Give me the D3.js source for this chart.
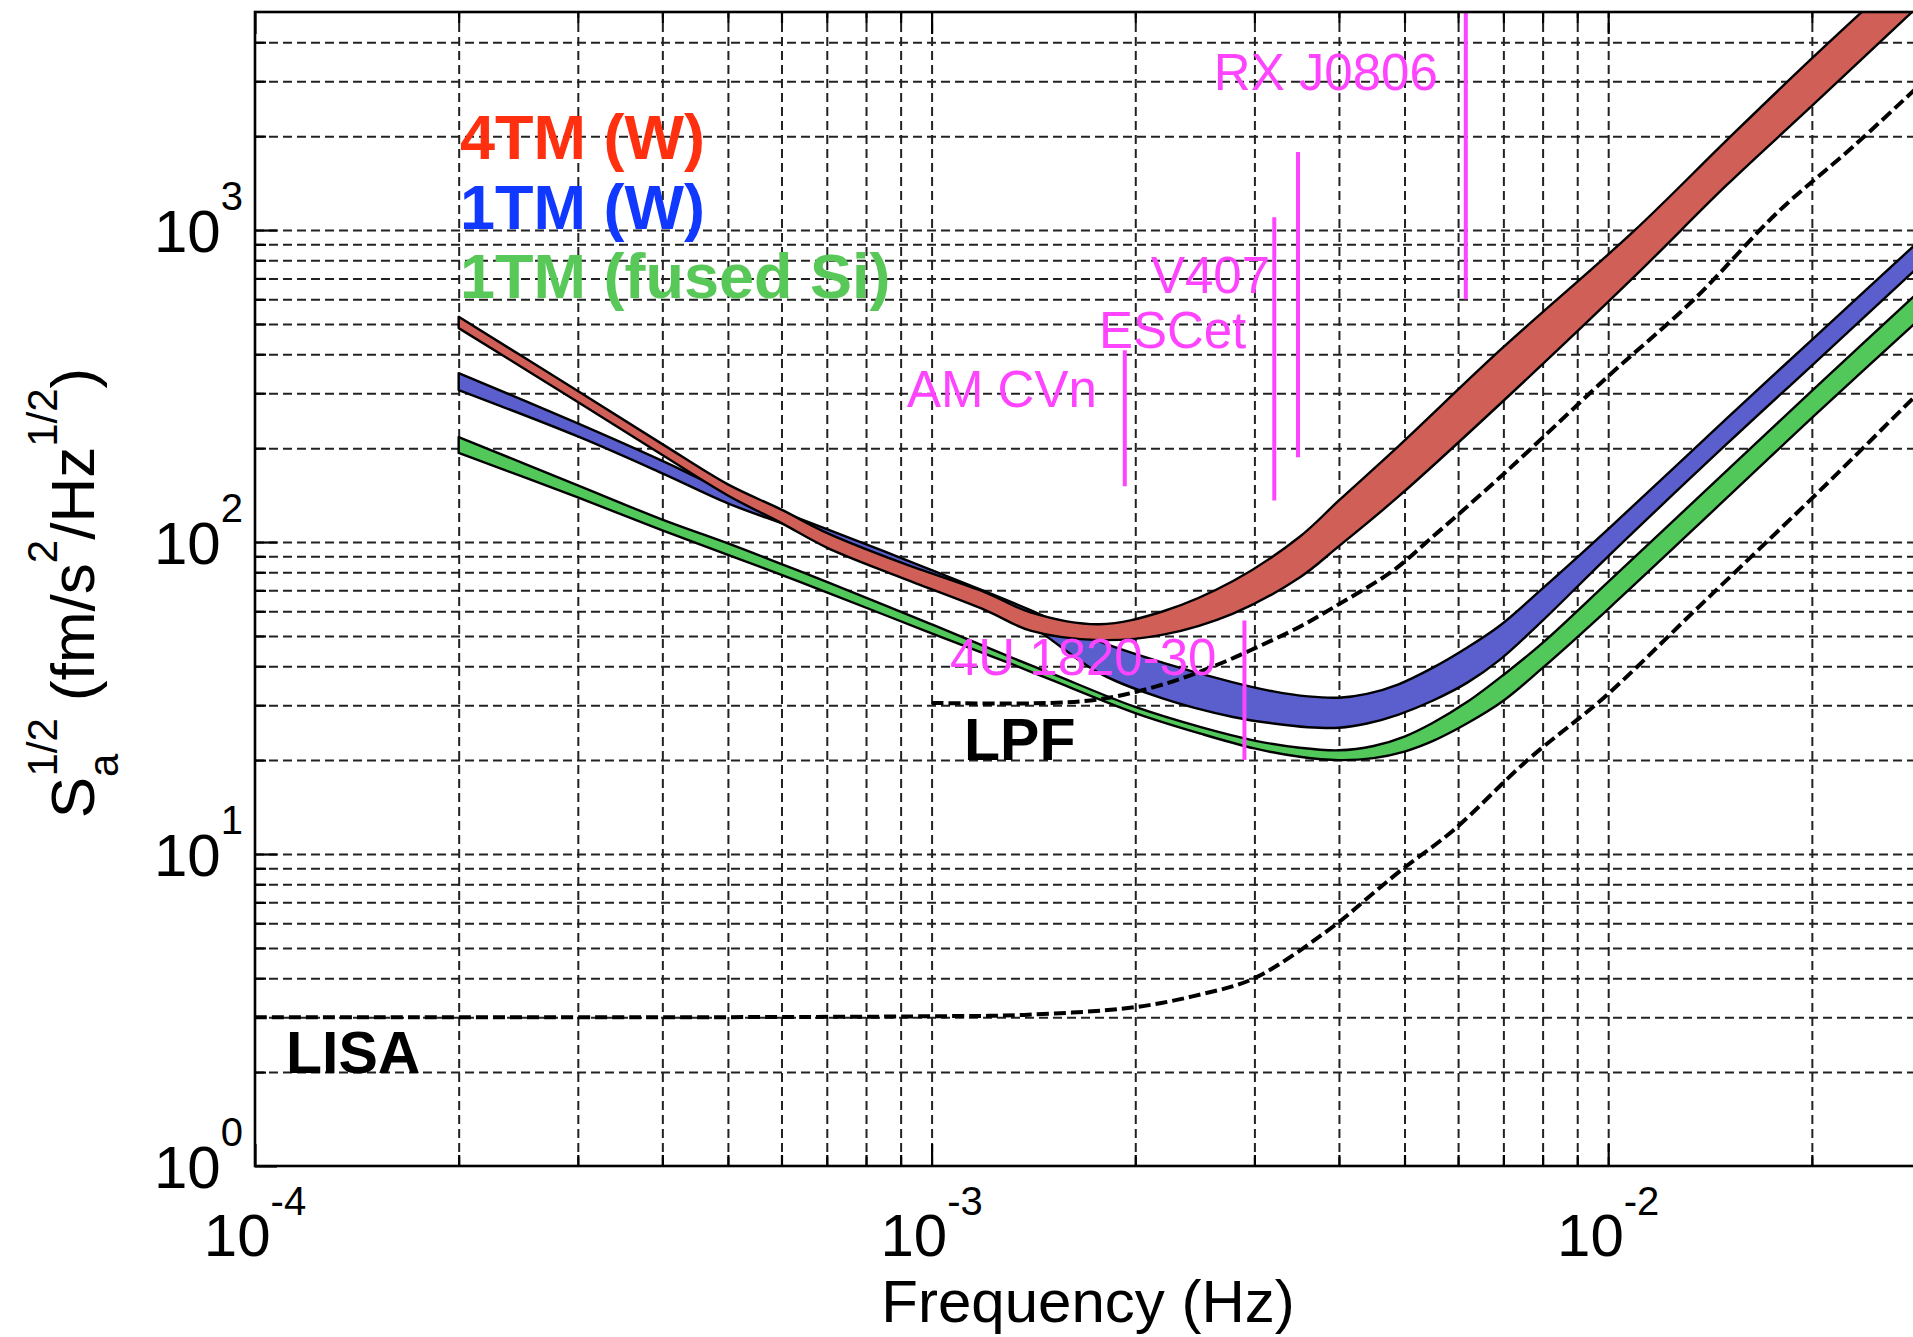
<!DOCTYPE html>
<html>
<head>
<meta charset="utf-8">
<script src="https://cdn.jsdelivr.net/npm/d3@7"></script>
<style>
  body { margin: 0; background: #fff; }
  svg { display: block; }
  text { font-family: "Liberation Sans", Arial, Helvetica, sans-serif; }
</style>
</head>
<body>
<div id="chart-container"></div>
<script>
// ---- data (frequency in Hz, S_a^1/2 in fm/s^2/Hz^1/2) ----

// 4TM (W) band
const redF  = [2e-4, 3e-4, 4e-4, 5e-4, 6e-4, 7e-4, 9e-4, 1.2e-3, 1.4e-3, 1.77e-3, 2.2e-3, 2.79e-3, 3.5e-3, 4e-3, 4.9e-3, 6.92e-3, 1.09e-2, 1.5e-2, 2e-2, 3e-2];
const redHi = [527, 305, 206, 153, 127, 107, 86, 69, 59.5, 54.5, 60, 75, 104, 136, 203, 412, 990, 1950, 3550, 8000];
const redLo = [485, 281, 190, 141, 115, 96, 77, 60.5, 52, 48.5, 50.5, 59, 77, 97, 140, 277, 705, 1400, 2500, 5700];

// 1TM (W) band
const blueF  = [2e-4, 3e-4, 4e-4, 5e-4, 6e-4, 7e-4, 9e-4, 1.2e-3, 1.4e-3, 1.77e-3, 2.2e-3, 2.79e-3, 3.2e-3, 3.6e-3, 4e-3, 4.4e-3, 4.9e-3, 5.5e-3, 6.2e-3, 6.92e-3, 8e-3, 1e-2, 1.5e-2, 2e-2, 3e-2];
const blueHi = [348, 240, 182, 145, 125, 110, 89, 69.5, 60.5, 48, 41, 35.5, 33.2, 32, 31.7, 32.6, 35, 39.5, 46, 54, 71, 110, 250, 445, 1000];
const blueLo = [307, 218, 166, 133, 115, 102, 82.5, 64, 54, 38, 31.5, 27.5, 26.2, 25.5, 25.4, 26.2, 28, 31, 35.5, 42, 56, 90, 207, 368, 830];

// 1TM (fused Si) band
const greenF  = [2e-4, 3e-4, 4e-4, 5e-4, 6e-4, 7e-4, 1e-3, 1.3e-3, 1.5e-3, 2e-3, 2.5e-3, 3e-3, 3.5e-3, 4e-3, 4.5e-3, 5e-3, 5.5e-3, 6.2e-3, 7e-3, 8e-3, 1e-2, 1.5e-2, 2e-2, 3e-2];
const greenHi = [217, 152, 118, 99, 85, 74.5, 54.5, 43, 38, 29.6, 25.5, 23.1, 21.9, 21.5, 22.2, 23.8, 26.3, 30.8, 37.5, 47.5, 74.5, 170, 305, 690];
const greenLo = [193, 139, 109, 91, 78.5, 69, 51, 41, 36.2, 28.3, 24.3, 21.8, 20.5, 20.0, 20.3, 21.3, 23, 26.3, 31, 39.5, 61, 139, 250, 560];

// LPF requirement (dashed)
const lpfF = [1e-3, 1.5e-3, 1.8e-3, 2.23e-3, 2.65e-3, 2.96e-3, 3.5e-3, 3.94e-3, 4.81e-3, 5.42e-3, 7e-3, 1e-2, 1.34e-2, 1.78e-2, 2.3e-2, 2.83e-2, 3e-2];
const lpfV = [30.5, 30.5, 31.5, 35.3, 40.5, 45, 53.5, 62, 81, 101, 165, 340, 600, 1140, 1850, 2800, 3150];

// LISA requirement (dashed)
const lisaF = [1e-4, 5e-4, 1e-3, 1.37e-3, 2e-3, 2.5e-3, 3e-3, 3.94e-3, 4.4e-3, 4.95e-3, 5.9e-3, 7.6e-3, 9.9e-3, 1.34e-2, 2e-2, 2.38e-2, 2.83e-2, 3e-2];
const lisaV = [3.0, 3.0, 3.02, 3.05, 3.23, 3.55, 4.0, 5.9, 7.2, 8.9, 11.9, 20, 32, 60, 138, 200, 290, 325];

// verification binaries (vertical markers)
const sourceNames = ["RX J0806", "V407", "ESCet", "AM CVn", "4U 1820-30"];
const sourceFreq  = [6.16e-3, 3.48e-3, 3.21e-3, 1.93e-3, 2.9e-3];
const sourceLo    = [600, 187, 136, 151, 20];
const sourceHi    = [8000, 1780, 1100, 412, 56];

// axis ticks
const xMajor = [1e-4, 1e-3, 1e-2];
const xMajorExp = ["-4", "-3", "-2"];
const yMajor = [1, 10, 100, 1000];
const yMajorExp = ["0", "1", "2", "3"];

const legendNames = ["4TM (W)", "1TM (W)", "1TM (fused Si)"];

// ---- layout ----
const width = 1913, height = 1337;
const plot = { left: 255, right: 1931, top: 12, bottom: 1166 };
const labelBaseline = [90, 293, 348, 407, 675];   // magenta label baselines
const colors = {
  redFill: "#d05f58", blueFill: "#5a5fcd", greenFill: "#52c85a",
  redText: "#ff3010", blueText: "#1038ff", greenText: "#58c858",
  magenta: "#ff44ff", grid: "#222"
};

const x = d3.scaleLog().domain([1e-4, 3e-2]).range([plot.left, plot.right]);
const y = d3.scaleLog().domain([1, 5000]).range([plot.bottom, plot.top]);
const plotW = plot.right - plot.left;
const plotH = plot.bottom - plot.top;
const smooth = d3.curveCatmullRom.alpha(0.5);

const svg = d3.select("#chart-container")
  .append("svg")
  .attr("width", width)
  .attr("height", height);

svg.append("rect").attr("width", width).attr("height", height).attr("fill", "#fff");

svg.append("clipPath").attr("id", "clip")
  .append("rect")
  .attr("x", plot.left).attr("y", plot.top)
  .attr("width", plotW).attr("height", plotH);

// minor values for grid / ticks
const xMinor = [];
[-4, -3, -2].forEach(e => { for (let k = 2; k <= 9; k++) { const v = k * Math.pow(10, e); if (v < 3e-2) xMinor.push(v); } });
const yMinor = [];
[0, 1, 2, 3].forEach(e => { for (let k = 2; k <= 9; k++) { const v = k * Math.pow(10, e); if (v < 5000) yMinor.push(v); } });

// Grid lines (dashed)
const gridX = svg.append("g")
  .attr("transform", "translate(0," + plot.bottom + ")")
  .call(d3.axisBottom(x).tickValues(xMinor.concat([1e-3, 1e-2])).tickSize(-plotH).tickFormat(""));
gridX.select(".domain").remove();
gridX.selectAll("line").attr("stroke", colors.grid).attr("stroke-width", 2).attr("stroke-dasharray", "9,5");

const gridY = svg.append("g")
  .attr("transform", "translate(" + plot.left + ",0)")
  .call(d3.axisLeft(y).tickValues(yMinor.concat([10, 100, 1000])).tickSize(-plotW).tickFormat(""));
gridY.select(".domain").remove();
gridY.selectAll("line").attr("stroke", colors.grid).attr("stroke-width", 2).attr("stroke-dasharray", "9,5");

// Tick marks, inside the box
function ticks(axis, values, size, transform) {
  const g = svg.append("g").attr("transform", transform)
    .call(axis.tickValues(values).tickSize(-size).tickFormat(""));
  g.select(".domain").remove();
  g.selectAll("line").attr("stroke", "#000").attr("stroke-width", 2.2);
}
ticks(d3.axisBottom(x), xMajor, 22, "translate(0," + plot.bottom + ")");
ticks(d3.axisBottom(x), xMinor, 11, "translate(0," + plot.bottom + ")");
ticks(d3.axisTop(x), xMajor, 22, "translate(0," + plot.top + ")");
ticks(d3.axisTop(x), xMinor, 11, "translate(0," + plot.top + ")");
ticks(d3.axisLeft(y), yMajor, 22, "translate(" + plot.left + ",0)");
ticks(d3.axisLeft(y), yMinor, 11, "translate(" + plot.left + ",0)");

// Curves
const content = svg.append("g").attr("clip-path", "url(#clip)");

function band(fs, hi, lo, fill) {
  const rows = fs.map((f, i) => ({ f: f, hi: hi[i], lo: lo[i] }));
  content.append("path")
    .datum(rows)
    .attr("fill", fill)
    .attr("stroke", "#000")
    .attr("stroke-width", 2.4)
    .attr("stroke-linejoin", "round")
    .attr("d", d3.area()
      .x(d => x(d.f))
      .y0(d => y(d.lo))
      .y1(d => y(d.hi))
      .curve(smooth));
}
band(blueF, blueHi, blueLo, colors.blueFill);
band(redF, redHi, redLo, colors.redFill);
band(greenF, greenHi, greenLo, colors.greenFill);

function dashed(fs, vs) {
  const rows = fs.map((f, i) => ({ f: f, v: vs[i] }));
  content.append("path")
    .datum(rows)
    .attr("fill", "none")
    .attr("stroke", "#000")
    .attr("stroke-width", 4)
    .attr("stroke-dasharray", "12,5")
    .attr("d", d3.line().x(d => x(d.f)).y(d => y(d.v)).curve(smooth));
}
dashed(lisaF, lisaV);
dashed(lpfF, lpfV);

// Source markers
content.selectAll(".src")
  .data(sourceNames.map((n, i) => ({ name: n, f: sourceFreq[i], lo: sourceLo[i], hi: sourceHi[i] })))
  .enter().append("line")
  .attr("class", "src")
  .attr("x1", d => x(d.f)).attr("x2", d => x(d.f))
  .attr("y1", d => y(d.lo)).attr("y2", d => y(d.hi))
  .attr("stroke", colors.magenta)
  .attr("stroke-width", 4);

svg.selectAll(".srclabel")
  .data(sourceNames.map((n, i) => ({ name: n, f: sourceFreq[i], yb: labelBaseline[i] })))
  .enter().append("text")
  .attr("class", "srclabel")
  .attr("x", d => x(d.f) - 28)
  .attr("y", d => d.yb)
  .attr("text-anchor", "end")
  .attr("fill", colors.magenta)
  .style("font-size", "51px")
  .text(d => d.name);

// Box
svg.append("rect")
  .attr("x", plot.left).attr("y", plot.top)
  .attr("width", plotW).attr("height", plotH)
  .attr("fill", "none").attr("stroke", "#000").attr("stroke-width", 2.6);

// Tick labels 10^n
xMajor.forEach((v, i) => {
  const t = svg.append("text")
    .attr("x", x(v)).attr("y", 1256)
    .attr("text-anchor", "middle")
    .style("font-size", "60px");
  t.append("tspan").text("10");
  t.append("tspan").attr("dy", -41).style("font-size", "40px").text(xMajorExp[i]);
});
yMajor.forEach((v, i) => {
  const t = svg.append("text")
    .attr("x", 243).attr("y", y(v) + 22)
    .attr("text-anchor", "end")
    .style("font-size", "60px");
  t.append("tspan").text("10");
  t.append("tspan").attr("dy", -42).style("font-size", "40px").text(yMajorExp[i]);
});

// Axis titles
svg.append("text")
  .attr("x", 1088).attr("y", 1322)
  .attr("text-anchor", "middle")
  .style("font-size", "60px")
  .text("Frequency (Hz)");

const yl = svg.append("text")
  .attr("transform", "translate(94,593) rotate(-90)")
  .attr("text-anchor", "middle")
  .style("font-size", "62px");
yl.append("tspan").text("S");
yl.append("tspan").attr("dy", 24).style("font-size", "42px").text("a");
yl.append("tspan").attr("dx", -23).attr("dy", -61).style("font-size", "42px").text("1/2");
yl.append("tspan").attr("dy", 37).text(" (fm/s");
yl.append("tspan").attr("dy", -37).style("font-size", "42px").text("2");
yl.append("tspan").attr("dy", 37).text("/Hz");
yl.append("tspan").attr("dy", -37).style("font-size", "42px").text("1/2");
yl.append("tspan").attr("dy", 37).text(")");

// Legend
const legendColors = [colors.redText, colors.blueText, colors.greenText];
const legendY = [159, 229, 298];
legendNames.forEach((name, i) => {
  svg.append("text")
    .attr("x", 460).attr("y", legendY[i])
    .attr("fill", legendColors[i])
    .style("font-size", "63px")
    .style("font-weight", "bold")
    .text(name);
});

// Curve labels
svg.append("text")
  .attr("x", 964).attr("y", 760)
  .style("font-size", "59px").style("font-weight", "bold")
  .text("LPF");
svg.append("text")
  .attr("x", 286).attr("y", 1073)
  .style("font-size", "59px").style("font-weight", "bold")
  .text("LISA");
</script>
</body>
</html>
